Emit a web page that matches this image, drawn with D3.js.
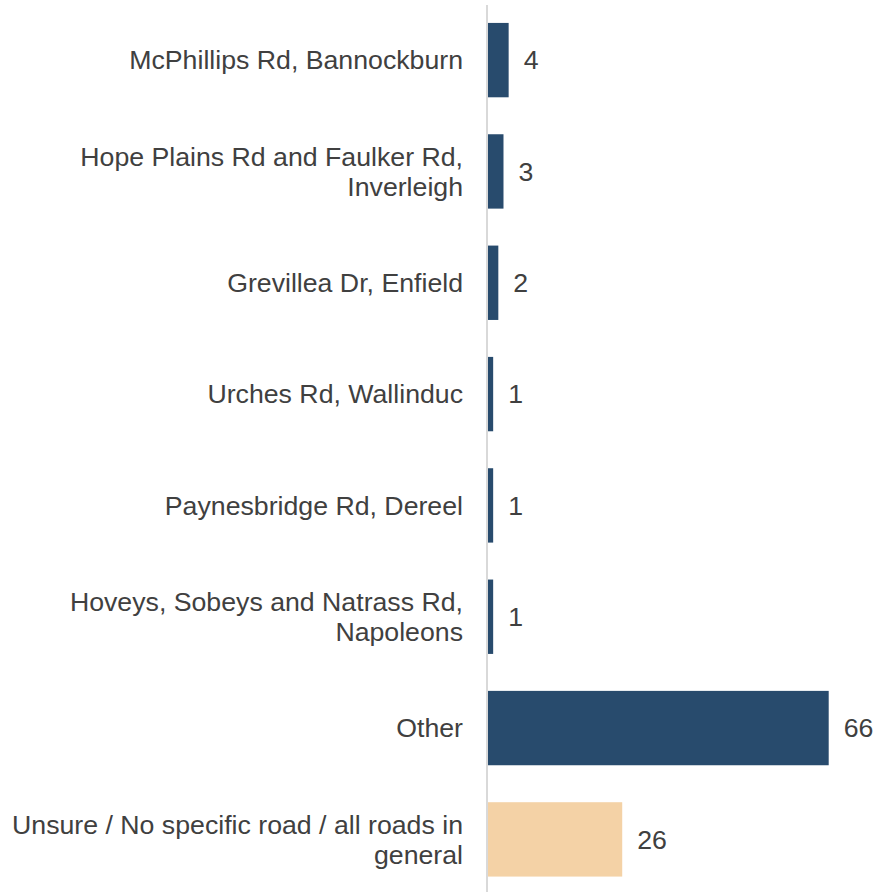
<!DOCTYPE html>
<html>
<head>
<meta charset="utf-8">
<script src="https://cdn.jsdelivr.net/npm/d3@7"></script>
<style>
  html, body { margin: 0; padding: 0; background: #ffffff; }
  svg { display: block; }
  text { font-family: "Liberation Sans", Arial, sans-serif; }
</style>
</head>
<body>
<svg id="chart" width="876" height="892"></svg>
<script>
const categories = [
  "McPhillips Rd, Bannockburn",
  "Hope Plains Rd and Faulker Rd, Inverleigh",
  "Grevillea Dr, Enfield",
  "Urches Rd, Wallinduc",
  "Paynesbridge Rd, Dereel",
  "Hoveys, Sobeys and Natrass Rd, Napoleons",
  "Other",
  "Unsure / No specific road / all roads in general"
];
const values = [4, 3, 2, 1, 1, 1, 66, 26];
const barColors = ["#284b6d", "#284b6d", "#284b6d", "#284b6d", "#284b6d", "#284b6d", "#284b6d", "#f4d2a6"];

const svg = d3.select("#chart");
const fontSize = 26.7;
const textColor = "#404040";
const axisX = 488;

const y = d3.scaleBand()
  .domain(categories)
  .range([4, 895.5])
  .paddingInner(0.332)
  .paddingOuter(0.17);

const x = d3.scaleLinear()
  .domain([0, d3.max(values)])
  .range([axisX, 828.7]);

const data = categories.map((c, i) => ({ cat: c, value: values[i], color: barColors[i] }));

// bars
svg.append("g").selectAll("rect")
  .data(data)
  .join("rect")
  .attr("x", x(0))
  .attr("y", d => y(d.cat))
  .attr("width", d => x(d.value) - x(0))
  .attr("height", y.bandwidth())
  .attr("fill", d => d.color);

// axis line
svg.append("line")
  .attr("x1", axisX - 1).attr("x2", axisX - 1)
  .attr("y1", 5).attr("y2", 892)
  .attr("stroke", "#d9d9d9")
  .attr("stroke-width", 2);

// category labels with wrapping
const maxWidth = 455;
const lineHeight = 30;
const labelG = svg.append("g");
data.forEach(d => {
  const t = labelG.append("text")
    .attr("x", axisX - 25)
    .attr("text-anchor", "end")
    .attr("font-size", fontSize)
    .attr("fill", textColor);
  // measure and wrap
  const words = d.cat.split(" ");
  const lines = [];
  let cur = [];
  const probe = t.append("tspan");
  words.forEach(w => {
    const test = cur.concat([w]).join(" ");
    probe.text(test);
    if (probe.node().getComputedTextLength() > maxWidth && cur.length) {
      lines.push(cur.join(" "));
      cur = [w];
    } else {
      cur.push(w);
    }
  });
  if (cur.length) lines.push(cur.join(" "));
  probe.remove();
  const cy = y(d.cat) + y.bandwidth() / 2;
  const n = lines.length;
  lines.forEach((ln, k) => {
    t.append("tspan")
      .attr("x", axisX - 25)
      .attr("y", cy + (k - (n - 1) / 2) * lineHeight)
      .attr("dy", "0.35em")
      .text(ln);
  });
});

// value labels
svg.append("g").selectAll("text")
  .data(data)
  .join("text")
  .attr("x", d => x(d.value) + 15)
  .attr("y", d => y(d.cat) + y.bandwidth() / 2)
  .attr("dy", "0.35em")
  .attr("font-size", fontSize)
  .attr("fill", textColor)
  .text(d => d.value);
</script>
</body>
</html>
